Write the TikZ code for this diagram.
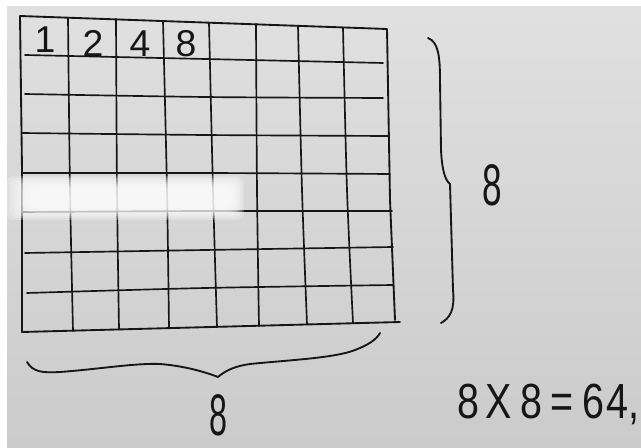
\documentclass[tikz,border=0pt]{standalone}
\usepackage{fontspec}
\setmainfont{Liberation Sans}
\usetikzlibrary{calc}
\definecolor{bBoard}{RGB}{224,224,224}
\definecolor{bBoardLow}{RGB}{203,203,203}
\definecolor{tInk}{RGB}{22,22,22}

\begin{document}
\begin{tikzpicture}[
    x=0.75pt, y=-0.75pt,
    ink/.style={draw=tInk, line width=1.4pt, line cap=round, line join=round},
    gridline/.style={ink, line width=1.25pt},
    glare/.style={fill=white, opacity=0.24, rounded corners=6pt},
    digit/.style={text=tInk, inner sep=0pt, font=\fontsize{28}{28}\selectfont},
    count/.style={text=tInk, inner sep=0pt, font=\fontsize{44}{44}\selectfont}
]

\useasboundingbox (0,0) rectangle (641,448);
\clip (0,0) rectangle (641,448);
\fill[white] (0,0) rectangle (641,448);
\shade[top color=bBoard, bottom color=bBoardLow] (7,7) rectangle (641,448);

% corners of the table
\coordinate (nw) at (20,16);
\coordinate (ne) at (387,29);
\coordinate (sw) at (22,332);
\coordinate (se) at (400,322);

\draw[ink] (sw) -- (22,170) -- (nw) -- (ne) -- (390,200) -- (395,320);
\draw[ink] (sw) -- (se);

% columns
\foreach \xt/\yt/\xm/\xb/\yb in {68/18/70/73/331, 116/19/117/119/329, 163/21/167/169/328,
    209/23/213/217/327, 256/24/257/259/326, 298/26/302/307/324, 343/28/347/353/323}
    \draw[gridline] plot[smooth] coordinates {(\xt,\yt) (\xm,190) (\xb,\yb)};

% rows
\foreach \xl/\yl/\ym/\xr/\yr in {25/55/59/383/63, 25/94/97/383/98, 22/133/135/388/136,
    22/173/173/390/174, 22/212/211/392/211, 25/253/250/393/247, 27/293/288/393/285}
    \draw[gridline] plot[smooth] coordinates {(\xl,\yl) (205,\ym) (\xr,\yr)};

\node[digit] (d1) at (45,40) {1};
\node[digit] (d2) at (93,43) {2};
\node[digit] (d4) at (140,44) {4};
\node[digit] (d8) at (186,44) {8};

% reflection on the board
\foreach \k in {0,...,6}
    \fill[glare] (6+\k*4,176+\k*2) rectangle (244-\k*2,220-\k*2);

% braces
\draw[ink] (428,38) .. controls (438,42) and (440,55) .. (440,80) -- (441,150)
    .. controls (442,170) and (445,180) .. (450,184)
    -- (453,290) .. controls (455,310) and (450,318) .. (441,323);
\draw[ink] (27,362) .. controls (33,372) and (42,373) .. (60,372)
    .. controls (100,369) and (135,363) .. (160,364)
    .. controls (185,366) and (205,372) .. (218,377)
    .. controls (226,370) and (236,366) .. (250,364)
    .. controls (290,360) and (335,358) .. (355,350)
    .. controls (368,345) and (376,340) .. (380,333);

\node[count] (rows) at (492,185) {\scalebox{0.6}[1]{8}};
\node[count, font=\fontsize{44}{44}\selectfont] (cols) at (218,415) {\scalebox{0.55}[1]{8}};
\node[text=tInk, inner sep=0pt, anchor=base west, font=\fontsize{37}{37}\selectfont]
    (total) at (457,418) {\scalebox{0.8}[1]{8\hspace{6pt}X\hspace{8pt}8\hspace{8pt}=\hspace{8pt}6\hspace{2pt}4,}};

\end{tikzpicture}
\end{document}
